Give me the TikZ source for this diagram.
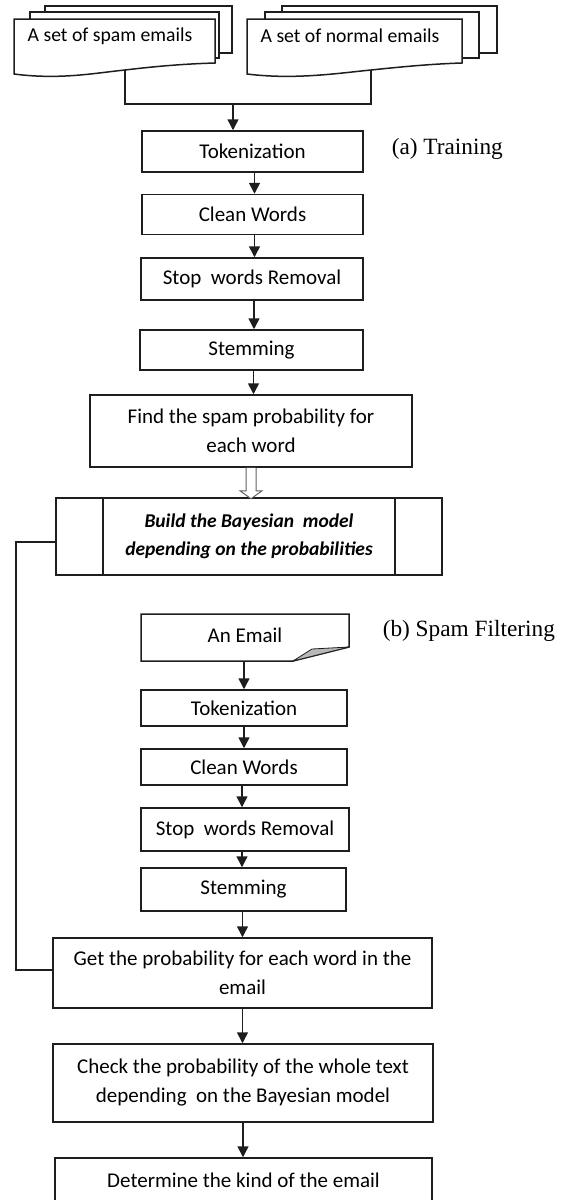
\documentclass[tikz,border=0pt]{standalone}
\usepackage{fontspec}
\setmainfont{Carlito}
\newfontfamily\serifcap{Liberation Serif}
\usetikzlibrary{arrows.meta,calc}
\definecolor{linecol}{HTML}{1E1E1E}
\definecolor{foldgray}{HTML}{B8B8B8}
\begin{document}
\begin{tikzpicture}[x=1pt,y=-1pt,
  line width=1.5pt,
  stepbox/.style={draw=linecol, fill=white, line width=1.5pt, inner sep=0pt,
    align=center, font=\fontsize{21}{29}\selectfont},
  arr/.style={draw=linecol, line width=1.5pt, -{Triangle[length=11pt,width=11pt]}},
  wire/.style={draw=linecol, line width=1.5pt},
  doc/.style={draw=linecol, fill=white, line width=1.5pt},
  caption/.style={font=\serifcap\fontsize{23.3}{27}\selectfont, anchor=west, inner sep=0pt},
  doctext/.style={font=\fontsize{19.7}{22}\selectfont, inner sep=0pt}]

\clip (0,0) rectangle (566,1200);
\useasboundingbox (0,0) rectangle (566,1200);

% ---- stacked document: spam emails ----
\draw[doc] (45,6) rectangle (232,53);
\draw[doc] (30,12) rectangle (219,58);
\draw[doc] (14,19) -- (215,19) -- (215,63)
  .. controls (180,64) and (150,67) .. (125,70)
  .. controls (95,73) and (60,80) .. (14,74) -- cycle;
\node[doctext] (spamtxt) at (110,36) {A set of spam emails};
\coordinate (spamB) at (125,70);

% ---- stacked document: normal emails ----
\draw[doc] (282,6) rectangle (497,53);
\draw[doc] (265,12) rectangle (479,58);
\draw[doc] (247,19) -- (462,19) -- (462,63)
  .. controls (430,64) and (400,67) .. (371,70)
  .. controls (340,73) and (295,80) .. (247,74) -- cycle;
\node[doctext] (normtxt) at (350,36) {A set of normal emails};
\coordinate (normB) at (371,70);

\coordinate (join) at (233,104);

% ---- (a) training ----
\node[stepbox, minimum width=221pt, minimum height=41pt] (tokA) at (252.5,151.5) {Tokenization};
\node[stepbox, minimum width=221pt, minimum height=40pt] (cleanA) at (252.5,214.5) {Clean Words};
\node[stepbox, minimum width=222pt, minimum height=42pt] (stopA) at (252,279) {Stop\ \ words Removal};
\node[stepbox, minimum width=223pt, minimum height=40pt] (stemA) at (251.5,350) {Stemming};
\node[stepbox, minimum width=322pt, minimum height=72pt] (findA) at (251,431) {Find the spam probability for\\each word};
\node[stepbox, minimum width=386pt, minimum height=77pt,
      font=\bfseries\itshape\fontsize{19.5}{28}\selectfont] (bayes) at (249,536.5)
      {Build the Bayesian\ \ model\\depending on the probabilities};
\draw[wire] (103,498) -- (103,575);
\draw[wire] (395,498) -- (395,575);

\node[caption] (capA) at (391,149) {(a) Training};

% ---- (b) spam filtering ----
\draw[doc] (141,614) -- (349,614) -- (349,647) -- (293,661) -- (141,661) -- cycle;
\draw[draw=linecol, line width=0.8pt, fill=foldgray] (293,661) -- (312,649) -- (349,647) -- cycle;
\node[doctext, font=\fontsize{21}{24}\selectfont] (emailtxt) at (245,635) {An Email};
\coordinate (emailB) at (244,661);

\node[caption] (capB) at (382,631) {(b) Spam Filtering};

\node[stepbox, minimum width=206pt, minimum height=36pt] (tokB) at (244,708) {Tokenization};
\node[stepbox, minimum width=206pt, minimum height=36pt] (cleanB) at (244,767) {Clean Words};
\node[stepbox, minimum width=208pt, minimum height=43pt] (stopB) at (245,829.5) {Stop\ \ words Removal};
\node[stepbox, minimum width=205pt, minimum height=43pt] (stemB) at (243.5,889.5) {Stemming};
\node[stepbox, minimum width=379pt, minimum height=70pt] (getB) at (242.5,973) {Get the probability for each word in the\\email};
\node[stepbox, minimum width=380pt, minimum height=78pt] (checkB) at (243,1083) {Check the probability of the whole text\\depending\ \ on the Bayesian model};
\node[stepbox, minimum width=377pt, minimum height=44pt] (detB) at (243.5,1180) {Determine the kind of the email};

% ---- connectors, training ----
\draw[wire] (spamB) |- (join) -| (normB);
\draw[arr] (join) -- (join |- tokA.north);
\draw[arr] ([xshift=2pt]tokA.south) -- ([xshift=2pt]tokA.south |- cleanA.north);
\draw[arr] ([xshift=2pt]cleanA.south) -- ([xshift=2pt]cleanA.south |- stopA.north);
\draw[arr] ([xshift=2pt]stopA.south) -- ([xshift=2pt]stopA.south |- stemA.north);
\draw[arr] ([xshift=2pt]stemA.south) -- ([xshift=2pt]stemA.south |- findA.north);

% hollow arrow into the model box
\draw[draw=linecol!70, line width=1pt, fill=white]
  ($(findA.south)+(-5,0)$) -- ($(findA.south)+(-5,23)$) -- ($(findA.south)+(-11,23)$)
  -- ($(findA.south)+(0,31)$) -- ($(findA.south)+(11,23)$) -- ($(findA.south)+(5,23)$)
  -- ($(findA.south)+(5,0)$);

% ---- connectors, filtering ----
\draw[arr] (emailB) -- (emailB |- tokB.north);
\draw[arr] (tokB.south) -- (tokB.south |- cleanB.north);
\draw[arr] ([xshift=-2pt]cleanB.south) -- ([xshift=-2pt]cleanB.south |- stopB.north);
\draw[arr] ([xshift=-3pt]stopB.south) -- ([xshift=-3pt]stopB.south |- stemB.north);
\draw[arr] ([xshift=-1pt]stemB.south) -- ([xshift=-1pt]stemB.south |- getB.north);
\draw[arr] (getB.south) -- (getB.south |- checkB.north);
\draw[arr] (checkB.south) -- (checkB.south |- detB.north);

% model feeds the probability lookup
\coordinate (loopTop) at (16,542);
\coordinate (loopBot) at (16,970);
\draw[wire] (bayes.west |- loopTop) -- (loopTop) -- (loopBot) -- (getB.west |- loopBot);
\end{tikzpicture}
\end{document}
